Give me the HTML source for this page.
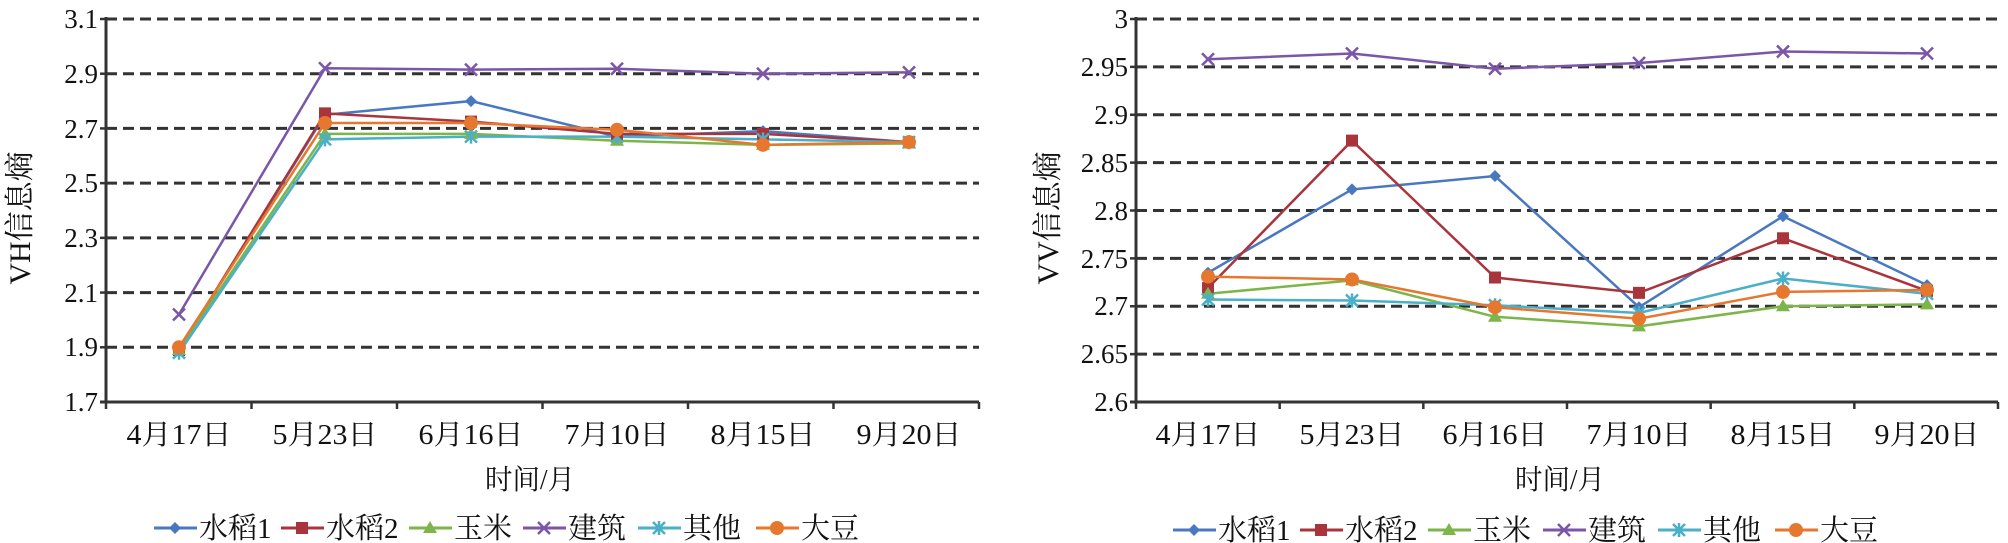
<!DOCTYPE html>
<html><head><meta charset="utf-8"><style>
body{margin:0;background:#fff}
svg{display:block}
text{font-family:"Liberation Serif","Noto Serif CJK SC",serif;fill:#111}
</style></head><body>
<svg id="s" width="2008" height="543" viewBox="0 0 2008 543" xmlns="http://www.w3.org/2000/svg">
<g id="L">
<text x="30" y="218" font-size="30" transform="rotate(-90 30 218)" text-anchor="middle">VH信息熵</text>
<g font-size="27" text-anchor="end">
<text x="98" y="28">3.1</text><text x="98" y="83">2.9</text><text x="98" y="138">2.7</text><text x="98" y="192">2.5</text><text x="98" y="247">2.3</text><text x="98" y="302">2.1</text><text x="98" y="356">1.9</text><text x="98" y="411">1.7</text>
</g>
<g font-size="28" text-anchor="middle">
<text x="179" y="444" textLength="105" lengthAdjust="spacingAndGlyphs">4月17日</text>
<text x="325" y="444" textLength="105" lengthAdjust="spacingAndGlyphs">5月23日</text>
<text x="471" y="444" textLength="105" lengthAdjust="spacingAndGlyphs">6月16日</text>
<text x="617" y="444" textLength="105" lengthAdjust="spacingAndGlyphs">7月10日</text>
<text x="763" y="444" textLength="105" lengthAdjust="spacingAndGlyphs">8月15日</text>
<text x="909" y="444" textLength="105" lengthAdjust="spacingAndGlyphs">9月20日</text>
<text x="530" y="489" textLength="90" lengthAdjust="spacingAndGlyphs">时间/月</text>
</g>
<g font-size="29">
<text x="199" y="538">水稻1</text><text x="326" y="538">水稻2</text><text x="454" y="538">玉米</text><text x="568" y="538">建筑</text><text x="683" y="538">其他</text><text x="801" y="538">大豆</text>
</g>
</g>
<g id="R">
<text x="1058" y="218" font-size="30" transform="rotate(-90 1058 218)" text-anchor="middle">VV信息熵</text>
<g font-size="27" text-anchor="end">
<text x="1128" y="28">3</text><text x="1128" y="76">2.95</text><text x="1128" y="124">2.9</text><text x="1128" y="172">2.85</text><text x="1128" y="220">2.8</text><text x="1128" y="268">2.75</text><text x="1128" y="315">2.7</text><text x="1128" y="363">2.65</text><text x="1128" y="411">2.6</text>
</g>
<g font-size="28" text-anchor="middle">
<text x="1208" y="444" textLength="105" lengthAdjust="spacingAndGlyphs">4月17日</text>
<text x="1352" y="444" textLength="105" lengthAdjust="spacingAndGlyphs">5月23日</text>
<text x="1495" y="444" textLength="105" lengthAdjust="spacingAndGlyphs">6月16日</text>
<text x="1639" y="444" textLength="105" lengthAdjust="spacingAndGlyphs">7月10日</text>
<text x="1783" y="444" textLength="105" lengthAdjust="spacingAndGlyphs">8月15日</text>
<text x="1927" y="444" textLength="105" lengthAdjust="spacingAndGlyphs">9月20日</text>
<text x="1560" y="489" textLength="90" lengthAdjust="spacingAndGlyphs">时间/月</text>
</g>
<g font-size="29">
<text x="1218" y="540">水稻1</text><text x="1345" y="540">水稻2</text><text x="1473" y="540">玉米</text><text x="1588" y="540">建筑</text><text x="1703" y="540">其他</text><text x="1820" y="540">大豆</text>
</g>
</g>
</svg>
<script>
var s=document.getElementById('s'),NS='http://www.w3.org/2000/svg';
function el(t,a){var e=document.createElementNS(NS,t);for(var k in a)e.setAttribute(k,a[k]);s.appendChild(e);return e;}
var cols=['#4A78C0','#AA343C','#7DB54A','#7B55A8','#4AAFC8','#E6772E'];
function marker(i,x,y){var c=cols[i];
 if(i==0)el('path',{d:'M'+x+' '+(y-6)+'L'+(x+6)+' '+y+'L'+x+' '+(y+6)+'L'+(x-6)+' '+y+'Z',fill:c});
 else if(i==1)el('rect',{x:x-6,y:y-6,width:12,height:12,fill:c});
 else if(i==2)el('path',{d:'M'+x+' '+(y-7)+'L'+(x+7)+' '+(y+5)+'L'+(x-7)+' '+(y+5)+'Z',fill:c});
 else if(i==3)el('path',{d:'M'+(x-6)+' '+(y-6)+'L'+(x+6)+' '+(y+6)+'M'+(x+6)+' '+(y-6)+'L'+(x-6)+' '+(y+6),stroke:c,'stroke-width':2.5});
 else if(i==4)el('path',{d:'M'+(x-6)+' '+(y-6)+'L'+(x+6)+' '+(y+6)+'M'+(x+6)+' '+(y-6)+'L'+(x-6)+' '+(y+6)+'M'+x+' '+(y-7)+'L'+x+' '+(y+7),stroke:c,'stroke-width':2.5});
 else el('circle',{cx:x,cy:y,r:7,fill:c});}
function chart(x0,x1,grids,xs,ymap,data,legx,legy){
 grids.forEach(function(g){el('line',{x1:x0,x2:x1,y1:g,y2:g,stroke:'#333','stroke-width':3,'stroke-dasharray':'11 6'});});
 el('line',{x1:x0,x2:x0,y1:17,y2:403,stroke:'#333','stroke-width':3});
 el('line',{x1:x0-6,x2:x1,y1:402,y2:402,stroke:'#333','stroke-width':3});
 for(var k=0;k<=6;k++){var tx=x0+(x1-x0)*k/6;el('line',{x1:tx,x2:tx,y1:402,y2:409,stroke:'#333','stroke-width':2.5});}
 grids.forEach(function(g){el('line',{x1:x0-6,x2:x0,y1:g,y2:g,stroke:'#333','stroke-width':2.5});});
 data.forEach(function(d,i){var p=d.map(function(v,j){return xs[j]+','+ymap(v)}).join(' ');
  el('polyline',{points:p,fill:'none',stroke:cols[i],'stroke-width':2.5});});
 data.forEach(function(d,i){d.forEach(function(v,j){marker(i,xs[j],ymap(v));});});
 legx.forEach(function(lx,i){el('line',{x1:lx,x2:lx+43,y1:legy,y2:legy,stroke:cols[i],'stroke-width':3});marker(i,lx+21,legy);});
}
var gl=[];for(var k=0;k<8;k++)gl.push(19+k*383/7);
chart(106,979,gl,[179,325,471,617,763,909],function(v){return 19+(3.1-v)/1.4*383},[
[1.89,2.75,2.80,2.67,2.69,2.65],[1.89,2.755,2.725,2.68,2.68,2.65],[1.89,2.68,2.68,2.655,2.64,2.645],
[2.02,2.92,2.915,2.918,2.90,2.905],[1.88,2.66,2.67,2.67,2.66,2.65],[1.90,2.72,2.72,2.695,2.64,2.65]],
[154,281,409,523,638,756],528);
var gr=[];for(var k=0;k<9;k++)gr.push(19+k*383/8);
chart(1136,1998,gr,[1208,1352,1495,1639,1783,1927],function(v){return 19+(3-v)/0.4*383},[
[2.735,2.822,2.836,2.699,2.794,2.722],[2.719,2.873,2.730,2.714,2.771,2.716],[2.713,2.727,2.689,2.679,2.700,2.702],
[2.958,2.964,2.948,2.954,2.966,2.964],[2.707,2.706,2.701,2.693,2.729,2.713],[2.731,2.728,2.699,2.687,2.715,2.717]],
[1173,1300,1428,1543,1658,1775],530);
</script>
</body></html>
